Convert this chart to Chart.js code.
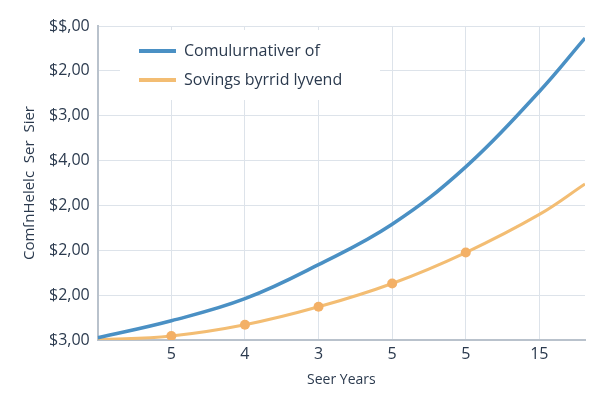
<!DOCTYPE html>
<html>
<head>
<meta charset="utf-8">
<script src="https://cdn.jsdelivr.net/npm/chart.js@4"></script>
<style>
  html, body { margin: 0; padding: 0; background: #fff; }
  #wrap { width: 600px; height: 400px; }
</style>
</head>
<body>
<div id="wrap"><canvas id="chart"></canvas></div>
<script>
// Chart data
const xTickLabels = ['5', '4', '3', '5', '5', '15']
const yTickLabels = ['$3,00', '$2,00', '$2,00', '$2,00', '$4,00', '$3,00', '$2,00', '$$,00']
const xPos = [0, 1, 2, 3, 4, 5, 6, 6.62]
const cumulativeValues = [0.05, 0.43, 0.92, 1.68, 2.58, 3.86, 5.54, 6.73]
const savingsValues = [0.0, 0.09, 0.34, 0.74, 1.26, 1.95, 2.8, 3.48]
const seriesLabels = ['Comulurnativer of', 'Sovings byrrid lyvend']

const textColor = '#2b3a4e'
const gridColor = '#dde3ea'

// legend drawn inside the plot area, with a white box behind it
const insideLegend = {
  id: 'insideLegend',
  afterDatasetsDraw(chart) {
    const ctx = chart.ctx
    ctx.save()
    ctx.fillStyle = '#fff'
    ctx.fillRect(120, 30, 260, 70)
    chart.data.datasets.forEach((ds, i) => {
      const y = 51 + i * 29
      ctx.strokeStyle = ds.borderColor
      ctx.lineWidth = 4
      ctx.beginPath()
      ctx.moveTo(139, y)
      ctx.lineTo(176, y)
      ctx.stroke()
      ctx.fillStyle = textColor
      ctx.font = '16px "Open Sans", sans-serif'
      ctx.textBaseline = 'middle'
      ctx.fillText(ds.label, 184, y)
    })
    ctx.restore()
  }
}

new Chart(document.getElementById('chart'), {
  type: 'line',
  data: {
    datasets: [
      {
        label: seriesLabels[0],
        data: xPos.map((x, i) => ({ x, y: cumulativeValues[i] })),
        borderColor: '#4a90c4',
        borderWidth: 3.5,
        pointRadius: 0,
        tension: 0.4
      },
      {
        label: seriesLabels[1],
        data: xPos.map((x, i) => ({ x, y: savingsValues[i] })),
        borderColor: '#f3bd73',
        backgroundColor: '#f3b066',
        borderWidth: 3,
        pointRadius: [0, 5, 5, 5, 5, 5, 0, 0],
        pointBorderWidth: 0,
        tension: 0.4
      }
    ]
  },
  options: {
    responsive: true,
    maintainAspectRatio: false,
    animation: false,
    layout: { padding: { top: 26, right: 15, left: 17, bottom: 8 } },
    plugins: { legend: { display: false }, tooltip: { enabled: false } },
    scales: {
      x: {
        type: 'linear',
        min: 0,
        max: 6.62,
        afterBuildTicks: axis => { axis.ticks = [1, 2, 3, 4, 5, 6].map(v => ({ value: v })) },
        ticks: {
          color: textColor,
          font: { size: 16, family: 'Open Sans' },
          padding: 5,
          callback: v => xTickLabels[v - 1]
        },
        grid: { color: gridColor, drawTicks: false },
        border: { color: '#b9c2cc', width: 2 },
        title: { display: true, text: 'Seer Years', color: textColor, font: { size: 14, family: 'Open Sans' }, padding: { top: 2 } }
      },
      y: {
        min: 0,
        max: 7,
        ticks: {
          stepSize: 1,
          color: textColor,
          font: { size: 16, family: 'Open Sans' },
          padding: 8,
          callback: v => yTickLabels[v]
        },
        grid: { color: gridColor, drawTicks: false },
        border: { color: '#b9c2cc', width: 2 },
        title: { display: true, text: 'ComſnHelelc  Ser  Sier', color: textColor, font: { size: 15, family: 'Open Sans' }, padding: { bottom: 2 } }
      }
    }
  },
  plugins: [insideLegend]
})
</script>
</body>
</html>
